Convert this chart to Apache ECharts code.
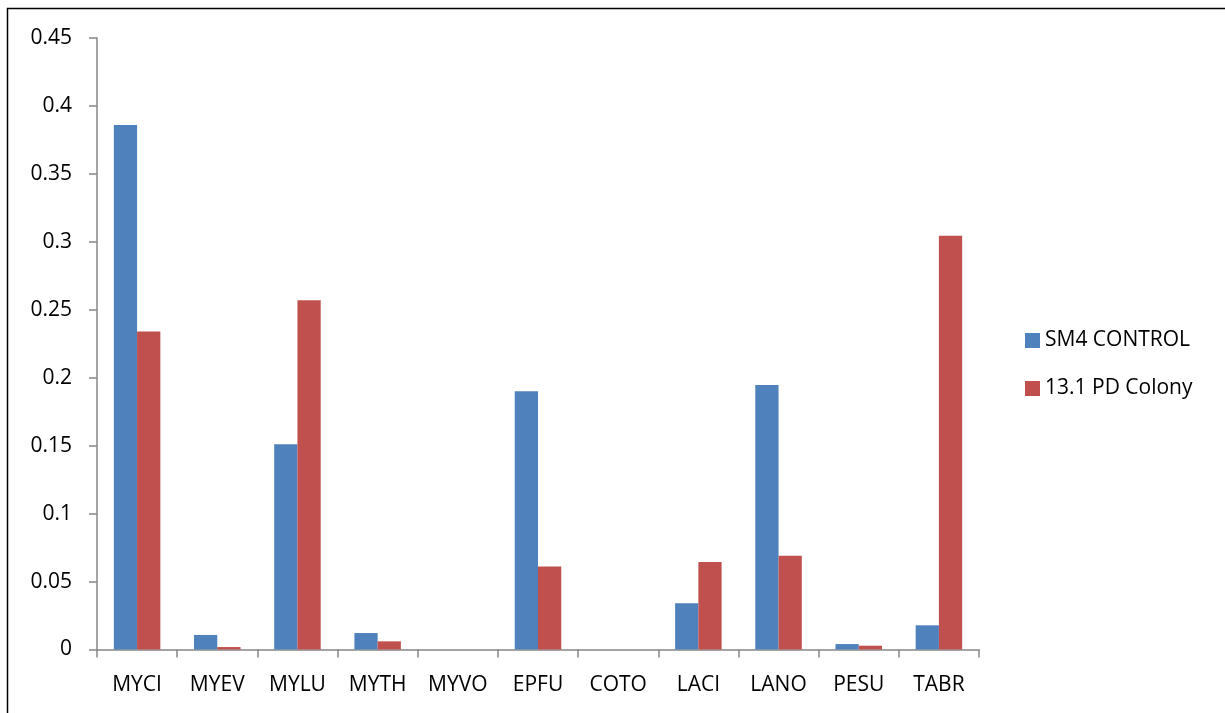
<!DOCTYPE html>
<html>
<head>
<meta charset="utf-8">
<script src="https://cdn.jsdelivr.net/npm/echarts@6/dist/echarts.min.js"></script>
<style>
  html, body { margin: 0; padding: 0; background: #fff; }
  #main { width: 1225px; height: 713px; }
</style>
</head>
<body>
<div id="main"></div>
<script type="text/javascript">
    // data
    var categories = ['MYCI', 'MYEV', 'MYLU', 'MYTH', 'MYVO', 'EPFU', 'COTO', 'LACI', 'LANO', 'PESU', 'TABR'];
    var seriesNames = ['SM4 CONTROL', '13.1 PD Colony'];
    var controlValues = [0.386, 0.0107, 0.151, 0.0121, 0, 0.190, 0, 0.034, 0.1946, 0.004, 0.0178];
    var colonyValues = [0.234, 0.0018, 0.257, 0.006, 0, 0.061, 0, 0.0644, 0.0689, 0.0028, 0.3045];

    var font = 'Open Sans, Liberation Sans, sans-serif';
    var myChart = echarts.init(document.getElementById('main'));
    var option = {
        animation: false,
        backgroundColor: '#ffffff',
        graphic: [{
            type: 'rect',
            shape: { x: 7.5, y: 8.5, width: 1240, height: 730 },
            style: { fill: 'none', stroke: '#000', lineWidth: 1.5 },
            silent: true
        }],
        grid: { left: 97, right: 246, top: 38, bottom: 63.5 },
        legend: {
            orient: 'vertical',
            left: 1020,
            top: 325,
            itemWidth: 15,
            itemHeight: 15,
            itemGap: 27,
            icon: 'rect',
            textStyle: { fontFamily: font, fontSize: 21, color: '#000' },
            data: seriesNames
        },
        xAxis: {
            type: 'category',
            data: categories,
            axisLine: { lineStyle: { color: '#868686', width: 1.5 } },
            axisTick: { show: true, length: 8, lineStyle: { color: '#868686', width: 1.5 } },
            axisLabel: { interval: 0, fontFamily: font, fontSize: 21, color: '#000', margin: 25 }
        },
        yAxis: {
            type: 'value',
            min: 0,
            max: 0.45,
            interval: 0.05,
            axisLine: { show: true, lineStyle: { color: '#868686', width: 1.5 } },
            axisTick: { show: true, length: 8, lineStyle: { color: '#868686', width: 1.5 } },
            splitLine: { show: false },
            axisLabel: { fontFamily: font, fontSize: 21, color: '#000', margin: 25 }
        },
        series: [
            {
                name: seriesNames[0],
                type: 'bar',
                data: controlValues,
                barGap: '0%',
                barCategoryGap: '42%',
                itemStyle: { color: '#4F81BD' }
            },
            {
                name: seriesNames[1],
                type: 'bar',
                data: colonyValues,
                barGap: '0%',
                barCategoryGap: '42%',
                itemStyle: { color: '#C0504D' }
            }
        ]
    };
    myChart.setOption(option);
</script>
</body>
</html>
